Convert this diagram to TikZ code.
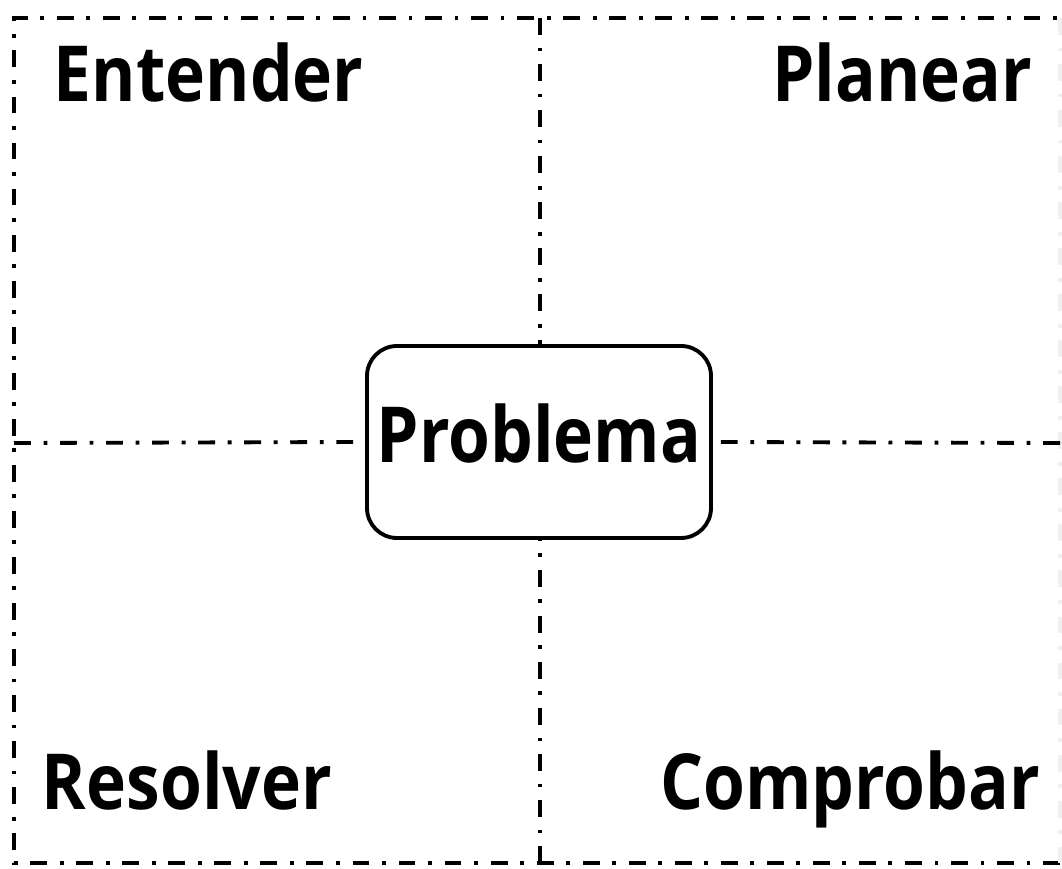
\documentclass[tikz,border=0pt]{standalone}
\usepackage{fontspec}
\setmainfont{Open Sans}
\newcommand{\narrow}[1]{\scalebox{0.875}[1]{#1}}
\begin{document}
\begin{tikzpicture}[line width=1.1pt,
  dashdot/.style={dash pattern=on 4.8pt off 3.6pt on 1.1pt off 3.6pt},
  stage/.style={inner sep=0pt, font=\fontsize{22}{26}\selectfont\bfseries},
  probbox/.style={draw, rounded corners=0.3cm, fill=white, minimum width=3.44cm,
    minimum height=1.92cm, inner sep=0pt, font=\fontsize{22}{26}\selectfont\bfseries}]
  \useasboundingbox (0,0) rectangle (10.62,8.69);
  % frame
  \coordinate (tl) at (0.14,8.51);
  \coordinate (tr) at (10.60,8.51);
  \coordinate (bl) at (0.14,0.06);
  \coordinate (br) at (10.60,0.06);
  \coordinate (tm) at (5.40,8.51);
  \coordinate (bm) at (5.40,0.06);
  \coordinate (lm) at (0.14,4.26);
  \coordinate (rm) at (10.60,4.26);
  \draw[dashdot] (br) -- (bl) -- (tl) -- (tr);
  \draw[dashdot, black!6] (tr) -- (br);
  % centre box
  \node[probbox] (prob) at (5.39,4.27)
    {\raisebox{0.08cm}[\height][\depth]{\narrow{Problema}}};
  \draw[dashdot] (tm) -- (tm |- prob.north);
  \draw[dashdot] (bm) -- (bm |- prob.south);
  \draw[dashdot] (lm) -- (prob.west);
  \draw[dashdot] (rm) -- (prob.east);
  % stages
  \node[stage, anchor=base west] (ent) at (0.52,7.67) {\narrow{Entender}};
  \node[stage, anchor=base east] (plan) at (10.34,7.67) {\narrow{Planear}};
  \node[stage, anchor=base west] (res) at (0.40,0.59) {\narrow{Resolver}};
  \node[stage, anchor=base east] (comp) at (10.42,0.59) {\narrow{Comprobar}};
\end{tikzpicture}
\end{document}
